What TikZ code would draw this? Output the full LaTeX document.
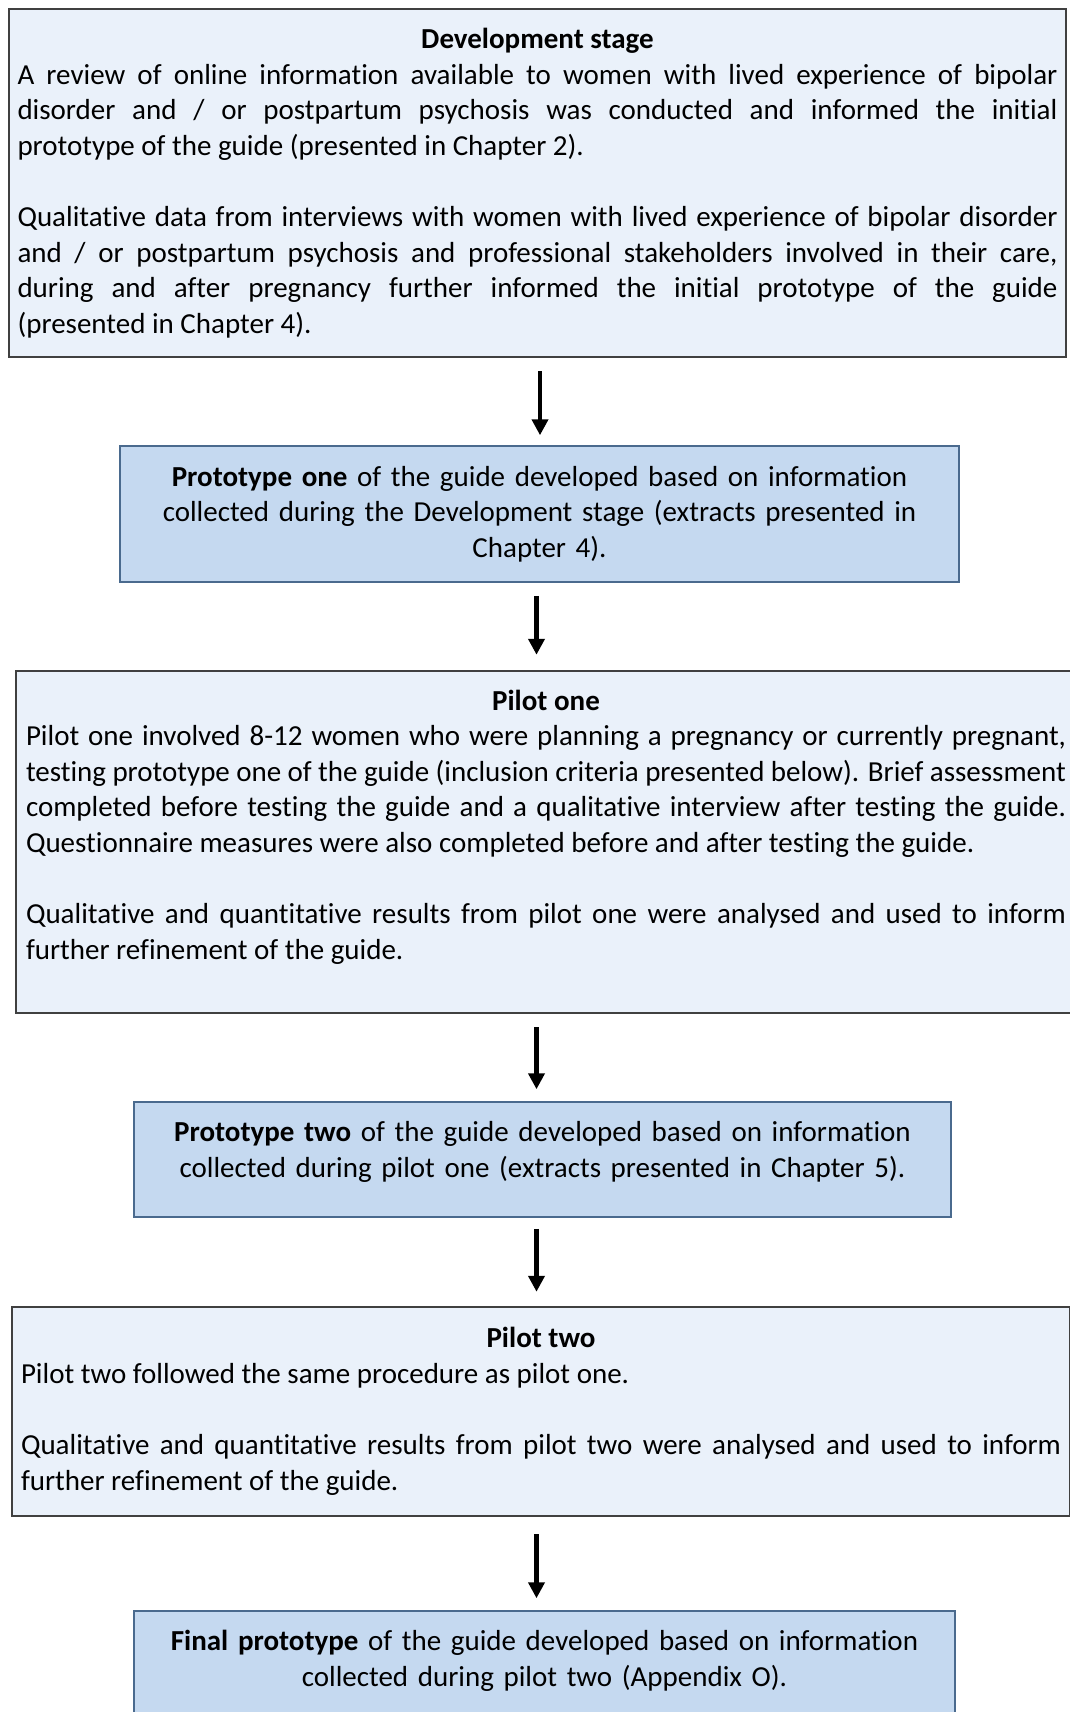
\documentclass[tikz,border=0pt]{standalone}
\usepackage{fontspec}
\setmainfont{Carlito}[Ligatures=NoCommon]
\usetikzlibrary{arrows.meta}
\setlength{\parindent}{0pt}
\definecolor{paleblue}{HTML}{EAF1FA}
\definecolor{midblue}{HTML}{C5D9F0}
\definecolor{boxgrey}{HTML}{404040}
\definecolor{blueedge}{HTML}{4A6A8E}
% invisible strip of given height below the last line of a box
\newcommand{\bottompad}[1]{\par\nointerlineskip\leavevmode\rule{0pt}{#1}\par}

\begin{document}
\begin{tikzpicture}[x=1pt,y=-1pt,
  every node/.style={font=\fontsize{29}{35.6}\selectfont},
  stagebox/.style={draw=boxgrey, line width=2.5pt, fill=paleblue,
    text width=1040pt, align=justify, inner sep=0pt},
  protobox/.style={draw=blueedge, line width=1.5pt, fill=midblue,
    text width=800pt, align=center, inner sep=0pt},
  flow/.style={line width=4.5pt, -{Triangle[length=16pt,width=16pt]}}]

  \useasboundingbox (0,0) rectangle (1069,1712);

  % stage boxes (pale) and prototype boxes (blue)
  \node[stagebox, minimum width=1057pt, minimum height=348pt] (dev) at (537.5,183)
  {{\centering\bfseries Development stage\par}
   A review of online information available to women with lived experience of bipolar\linebreak
   disorder and / or postpartum psychosis was conducted and informed the initial\linebreak
   prototype of the guide (presented in Chapter 2).\par
   \vspace{35.6pt}
   Qualitative data from interviews with women with lived experience of bipolar disorder\linebreak
   and / or postpartum psychosis and professional stakeholders involved in their care,\linebreak
   during and after pregnancy further informed the initial prototype of the guide\linebreak
   (presented in Chapter 4).};

  \node[protobox, minimum width=839pt, minimum height=136pt] (p1) at (539.5,514)
  {\textbf{Prototype one} of the guide developed based on information\\
   collected during the Development stage (extracts presented in\\
   Chapter 4).};

  \node[stagebox, minimum width=1060pt, minimum height=342pt] (pilot1) at (546,842)
  {{\centering\bfseries Pilot one\par}
   Pilot one involved 8-12 women who were planning a pregnancy or currently pregnant,\linebreak
   testing prototype one of the guide (inclusion criteria presented below). Brief assessment\linebreak
   completed before testing the guide and a qualitative interview after testing the guide.\linebreak
   Questionnaire measures were also completed before and after testing the guide.\par
   \vspace{35.6pt}
   Qualitative and quantitative results from pilot one were analysed and used to inform\linebreak
   further refinement of the guide.\bottompad{30pt}};

  \node[protobox, minimum width=817pt, minimum height=115pt] (p2) at (542.5,1159.5)
  {\textbf{Prototype two} of the guide developed based on information\\
   collected during pilot one (extracts presented in Chapter 5).\bottompad{15pt}};

  \node[stagebox, minimum width=1058pt, minimum height=209pt] (pilot2) at (541,1411.5)
  {{\centering\bfseries Pilot two\par}
   Pilot two followed the same procedure as pilot one.\par
   \vspace{35.6pt}
   Qualitative and quantitative results from pilot two were analysed and used to inform\linebreak
   further refinement of the guide.};

  \node[protobox, minimum width=821pt, minimum height=115pt] (final) at (544.5,1668.5)
  {\textbf{Final prototype} of the guide developed based on information\\
   collected during pilot two (Appendix O).\bottompad{15pt}};

  % downward arrows between the stages
  \coordinate (ax1) at (540,0);
  \coordinate (ax) at (536.5,0);
  \draw[flow, shorten <=13pt, shorten >=10pt] (dev.south -| ax1) -- (p1.north -| ax1);
  \draw[flow, shorten <=13pt, shorten >=15pt] (p1.south -| ax) -- (pilot1.north -| ax);
  \draw[flow, shorten <=13pt, shorten >=12pt] (pilot1.south -| ax) -- (p2.north -| ax);
  \draw[flow, shorten <=11pt, shorten >=14pt] (p2.south -| ax) -- (pilot2.north -| ax);
  \draw[flow, shorten <=17pt, shorten >=12pt] (pilot2.south -| ax) -- (final.north -| ax);
\end{tikzpicture}
\end{document}
